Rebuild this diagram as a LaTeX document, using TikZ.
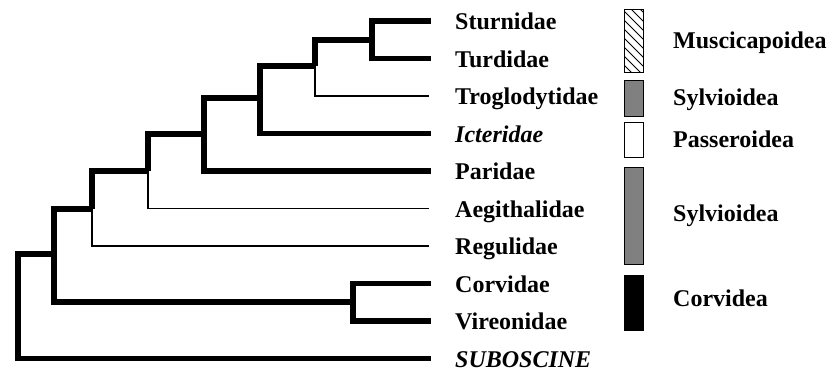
\documentclass[tikz,border=0pt]{standalone}
\usepackage{fontspec}
\setmainfont{Liberation Serif}
\definecolor{boxgray}{gray}{0.5}
\begin{document}
\begin{tikzpicture}[x=1pt,y=-1pt,
  thickbr/.style={line width=5.5pt, line join=miter},
  thinbr/.style={line width=1.7pt, line join=miter},
  taxon/.style={anchor=base west, inner sep=0pt, font=\fontsize{24}{28}\selectfont\bfseries},
  grp/.style={anchor=base west, inner sep=0pt, font=\fontsize{24}{28}\selectfont\bfseries},
  gbox/.style={draw=black, line width=1.3pt}]
\useasboundingbox (0,0) rectangle (827,372);
% leaf tips
\coordinate (stu) at (431,21);
\coordinate (tur) at (431,58.5);
\coordinate (tro) at (429,96);
\coordinate (ict) at (431,133.5);
\coordinate (par) at (431,171);
\coordinate (aeg) at (429,208.5);
\coordinate (reg) at (429,246);
\coordinate (cor) at (431,283.5);
\coordinate (vir) at (431,321);
\coordinate (sub) at (431,358.5);
% internal nodes
\coordinate (n1) at (372,40);
\coordinate (n2) at (315,66);
\coordinate (n3) at (260,98);
\coordinate (n4) at (204,134);
\coordinate (n5) at (148,171);
\coordinate (n6) at (92,209);
\coordinate (n7) at (353,302);
\coordinate (n8) at (54,254);
\coordinate (root) at (18,254);
% branches
\draw[thickbr] (n1) |- (stu);
\draw[thickbr] (n1) |- (tur);
\draw[thickbr] (n2) |- (n1);
\draw[thinbr] (n2) |- (tro);
\draw[thickbr] (n3) |- (n2);
\draw[thickbr] (n3) |- (ict);
\draw[thickbr] (n4) |- (n3);
\draw[thickbr] (n4) |- (par);
\draw[thickbr] (n5) |- (n4);
\draw[thinbr] (n5) |- (aeg);
\draw[thickbr] (n6) |- (n5);
\draw[thinbr] (n6) |- (reg);
\draw[thickbr] (n8) |- (n6);
\draw[thickbr] (n8) |- (n7);
\draw[thickbr] (n7) |- (cor);
\draw[thickbr] (n7) |- (vir);
\draw[thickbr] (n8) -- (root) |- (sub);
% taxon labels
\node[taxon] (lstu) at (455,29.5) {Sturnidae};
\node[taxon] (ltur) at (455,67) {Turdidae};
\node[taxon] (ltro) at (455,104.5) {Troglodytidae};
\node[taxon] (lict) at (455,142) {\itshape Icteridae};
\node[taxon] (lpar) at (455,179.5) {Paridae};
\node[taxon] (laeg) at (455,217) {Aegithalidae};
\node[taxon] (lreg) at (455,254.5) {Regulidae};
\node[taxon] (lcor) at (455,292) {Corvidae};
\node[taxon] (lvir) at (455,329.5) {Vireonidae};
\node[taxon] (lsub) at (455,367) {\itshape SUBOSCINE};
% group boxes
\begin{scope}
\clip (624,9) rectangle (643,72);
\foreach \k in {-3,...,8}
  \draw[line width=0.8pt] (622,{9+\k*9}) -- (645,{9+\k*9+23});
\end{scope}
\node[gbox, minimum width=19pt, minimum height=63pt, inner sep=0pt, anchor=north west] (bmus) at (624,9) {};
\node[gbox, fill=boxgray, minimum width=19pt, minimum height=36pt, inner sep=0pt, anchor=north west] (bsy1) at (624,80) {};
\node[gbox, fill=white, minimum width=19pt, minimum height=35pt, inner sep=0pt, anchor=north west] (bpas) at (624,122) {};
\node[gbox, fill=boxgray, minimum width=19pt, minimum height=97pt, inner sep=0pt, anchor=north west] (bsy2) at (624,167) {};
\node[gbox, fill=black, minimum width=19pt, minimum height=55pt, inner sep=0pt, anchor=north west] (bcor) at (624,275) {};
% group labels
\node[grp] (gmus) at (673,48) {Muscicapoidea};
\node[grp] (gsy1) at (673,105) {Sylvioidea};
\node[grp] (gpas) at (673,147) {Passeroidea};
\node[grp] (gsy2) at (673,221) {Sylvioidea};
\node[grp] (gcor) at (673,306) {Corvidea};
\end{tikzpicture}
\end{document}
